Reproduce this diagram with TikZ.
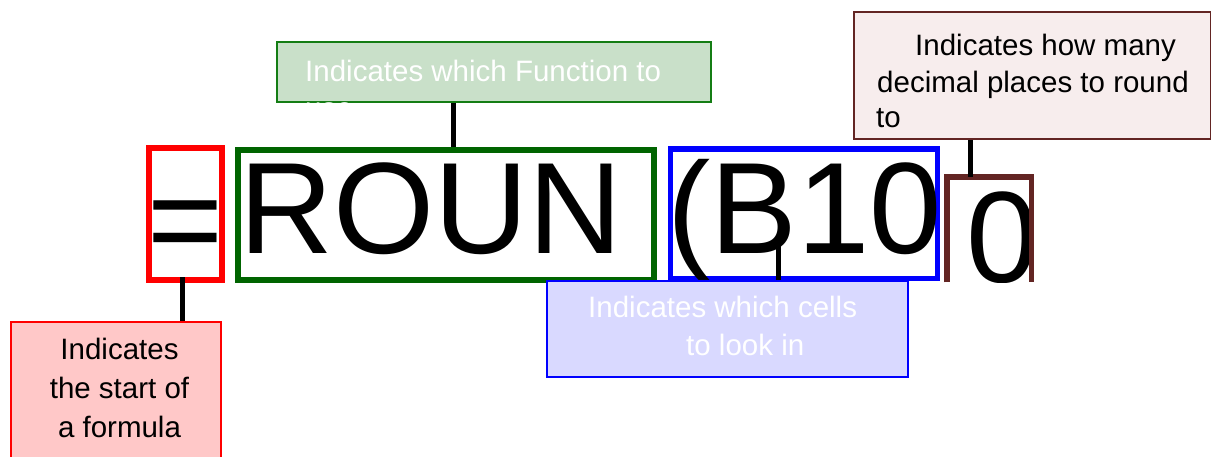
\documentclass[tikz,border=0pt]{standalone}
\usepackage{fontspec}
\setmainfont{Liberation Sans}
\definecolor{cred}{RGB}{255,0,0}
\definecolor{cgreen}{RGB}{0,100,0}
\definecolor{cgreenl}{RGB}{20,125,20}
\definecolor{cblue}{RGB}{0,0,255}
\definecolor{cbrown}{RGB}{99,37,35}
\definecolor{fgreen}{RGB}{201,224,201}
\definecolor{fbrown}{RGB}{247,237,237}
\definecolor{fblue}{RGB}{217,217,255}
\definecolor{fred}{RGB}{255,200,200}
\tikzset{
  bigbox/.style={line width=5.5pt, inner sep=0pt, anchor=north west},
  lblbox/.style={line width=1.8pt, inner sep=0pt, anchor=north west},
  bigtxt/.style={inner sep=0pt, anchor=base west, font=\fontsize{130}{130}\selectfont},
  lbltxt/.style={inner sep=0pt, anchor=base west, font=\fontsize{29.5}{36}\selectfont},
  lbltxtc/.style={inner sep=0pt, anchor=base, font=\fontsize{29.5}{36}\selectfont},
  conn/.style={line width=5pt, black}
}
\begin{document}
\begin{tikzpicture}[x=1pt,y=-1pt]
\useasboundingbox (0,0) rectangle (1211,456);
% big formula boxes
\node (eqbox) [bigbox, draw=cred, minimum width=73pt, minimum height=132pt] at (146,145) {};
\node (fnbox) [bigbox, draw=cgreen, minimum width=416pt, minimum height=130pt] at (235,147) {};
\node (cellbox) [bigbox, draw=cblue, minimum width=267pt, minimum height=129.5pt] at (667.5,146) {};
\node (zerobox) [inner sep=0pt, anchor=north west, minimum width=84pt, minimum height=105pt] at (947,177) {};
% big text
\node (eq) [bigtxt] at (147,264) {=};
\node (fn) [bigtxt] at (239,253) {ROUN};
\node (cells) [bigtxt] at (667,253) {(B10};
\begin{scope}
\clip (940,170) rectangle (1029,282);
\node (zero) [bigtxt] at (966,282) {0};
\end{scope}
\draw[cbrown, line width=5.5pt] (zerobox.south west) |- (zerobox.north) -| (zerobox.south east);
% connectors
\coordinate (cellsend) at (778,243);
\coordinate (fnend) at (453,147);
\coordinate (eqend) at (182,277);
\coordinate (zeroend) at (970,177);
% label boxes
\node (fnlbl) [lblbox, draw=cgreenl, fill=fgreen, minimum width=434pt, minimum height=60pt] at (276,41) {};
\node (declbl) [lblbox, draw=cbrown, fill=fbrown, minimum width=357pt, minimum height=127pt] at (853,11) {};
\node (celllbl) [lblbox, draw=cblue, fill=fblue, minimum width=361pt, minimum height=96pt] at (546,280) {};
\node (eqlbl) [lblbox, draw=cred, fill=fred, minimum width=210pt, minimum height=140pt] at (10,321) {};
\draw[conn] (fnlbl.south -| fnend) -- (fnend);
\draw[conn] (declbl.south -| zeroend) -- (zeroend);
\draw[conn] (celllbl.north -| cellsend) -- (cellsend);
\draw[conn] (eqlbl.north -| eqend) -- (eqend);
% label texts
\node (fnt1) [lbltxt, white] at (305,81) {Indicates which Function to};
\begin{scope}
\clip (276,41) rectangle (710,103);
\node (fnt2) [lbltxt, white] at (305,118) {use};
\end{scope}
\node (dect1) [lbltxt] at (915,55) {Indicates how many};
\node (dect2) [lbltxt] at (877,92) {decimal places to round};
\node (dect3) [lbltxt] at (876,127) {to};
\node (cellt1) [lbltxt, white] at (588,317) {Indicates which cells};
\node (cellt2) [lbltxt, white] at (686,355) {to look in};
\node (eqt1) [lbltxtc] at (119.5,359) {Indicates};
\node (eqt2) [lbltxtc] at (119.5,398) {the start of};
\node (eqt3) [lbltxtc] at (119.5,437) {a formula};
\end{tikzpicture}
\end{document}
